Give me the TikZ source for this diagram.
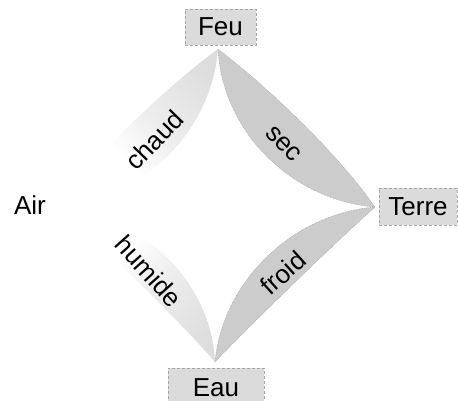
\documentclass[tikz,border=0pt]{standalone}
\usepackage{fontspec}
\setmainfont{Liberation Sans}
\colorlet{fadeA}{gray!14}
\colorlet{fadeB}{gray!26}
\colorlet{fadeC}{gray!30}
\pgfdeclarehorizontalshading{bandfade}{100bp}{color(0bp)=(white); color(40bp)=(white); color(55bp)=(fadeA); color(78bp)=(fadeB); color(100bp)=(fadeC)}
\begin{document}
\begin{tikzpicture}[x=1pt,y=-1pt,
  font=\fontsize{26}{30}\selectfont,
  box/.style={draw=gray!70, densely dashed, fill=gray!28, line width=0.6pt, inner sep=0pt},
  band/.style={fill=gray!40, draw=gray!70, densely dotted, line width=0.6pt},
  lbl/.style={inner sep=0pt}]
\useasboundingbox (0,0) rectangle (458,400);
\coordinate (tF) at (218,49);
\coordinate (tT) at (375,207);
\coordinate (tE) at (215,362);
\coordinate (tL) at (58,207);
% sec
\path[band] (tF) .. controls (265,85) and (335,150) .. (tT)
  .. controls (290,200) and (222,130) .. (tF) -- cycle;
% froid
\path[band] (tT) .. controls (335,243) and (255,320) .. (tE)
  .. controls (222,284) and (290,214) .. (tT) -- cycle;
% chaud
\shade[shading=bandfade, shading angle=45] (tF) .. controls (169,85) and (99,150) .. (tL)
  .. controls (144,200) and (212,130) .. (tF) -- cycle;
% humide
\shade[shading=bandfade, shading angle=-45] (tE) .. controls (179,320) and (99,243) .. (tL)
  .. controls (144,214) and (212,284) .. (tE) -- cycle;
% labels
\node[lbl, rotate=-46] (sec) at (283,144) {sec};
\node[lbl, rotate=42] (froid) at (283,273) {froid};
\node[lbl, rotate=46] (chaud) at (154,140) {chaud};
\node[lbl, rotate=-48] (humide) at (149,271) {humide};
\node[lbl] (air) at (30,205) {Air};
% boxes
\node[box, minimum width=71pt, minimum height=36pt] (feu) at (220.5,27) {Feu};
\node[box, minimum width=78pt, minimum height=37pt] (terre) at (418,206.5) {Terre};
\node[box, minimum width=96pt, minimum height=40pt] (eau) at (216,388) {Eau};
\end{tikzpicture}
\end{document}
